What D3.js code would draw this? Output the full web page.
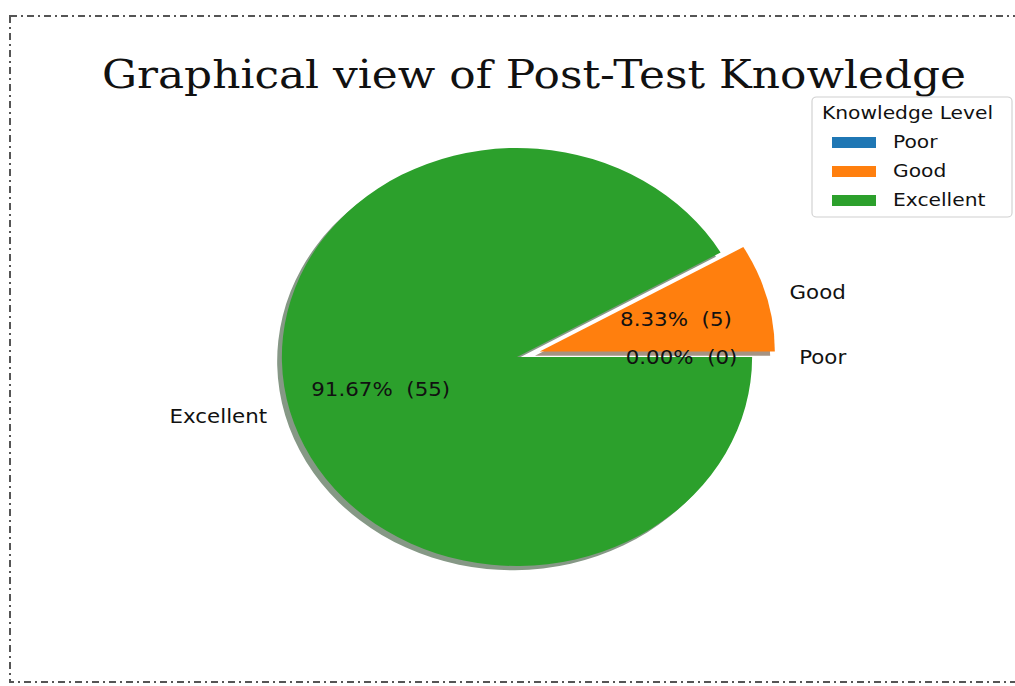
<!DOCTYPE html>
<html>
<head>
<meta charset="utf-8">
<script src="https://cdn.jsdelivr.net/npm/d3@7"></script>
<style>
  body { margin: 0; background: #fff; }
  svg { display: block; }
</style>
</head>
<body>
<div class="pie"></div>
<script>
const categories = ["Poor", "Good", "Excellent"]
const counts = [0, 5, 55]
const explode = [0.1, 0.1, 0]
const colors = ["#1f77b4", "#ff7f0e", "#2ca02c"]
const titleText = "Graphical view of Post-Test Knowledge"
const legendTitle = "Knowledge Level"

const W = 1015
const H = 686
const sx = 1.125          // the picture is a bit wider than tall
const cx = 517 / sx
const cy = 357
const R = 209

const svg = d3.select(".pie")
  .append("svg")
  .attr("width", W)
  .attr("height", H)

svg.append("rect").attr("width", W).attr("height", H).attr("fill", "#fff")

// dash-dot frame
svg.append("rect")
  .attr("x", 10).attr("y", 16)
  .attr("width", 1012).attr("height", 666)
  .attr("fill", "none")
  .attr("stroke", "#555")
  .attr("stroke-width", 2)
  .attr("stroke-dasharray", "7,4,2,4")

svg.append("text")
  .attr("x", 534).attr("y", 88)
  .attr("text-anchor", "middle")
  .attr("font-family", "DejaVu Serif")
  .attr("font-size", 40)
  .attr("textLength", 864)
  .attr("lengthAdjust", "spacingAndGlyphs")
  .attr("fill", "#111")
  .text(titleText)

const g = svg.append("g").attr("transform", `scale(${sx},1)`)

const total = d3.sum(counts)
// matplotlib style: counter-clockwise from 3 o'clock
const pie = d3.pie().sort(null).startAngle(0).endAngle(2 * Math.PI)
const slices = pie(counts).map((d, i) => {
  const mid = (d.startAngle + d.endAngle) / 2
  const off = explode[i] * R
  return {
    ...d, i, mid,
    ox: cx + off * Math.cos(mid),
    oy: cy - off * Math.sin(mid)
  }
})

const arc = d3.arc()
  .innerRadius(0)
  .outerRadius(R)
  .startAngle(d => Math.PI / 2 - d.endAngle)
  .endAngle(d => Math.PI / 2 - d.startAngle)

const rgb = c => d3.rgb(c)
const shadowCol = c => {
  const k = rgb(c)
  return d3.rgb(255 - 0.5 * (255 - 0.3 * k.r), 255 - 0.5 * (255 - 0.3 * k.g), 255 - 0.5 * (255 - 0.3 * k.b))
}

slices.forEach(d => {
  if (d.value === 0) return
  g.append("path")
    .attr("d", arc(d))
    .attr("transform", `translate(${d.ox - 0.02 * R},${d.oy + 0.02 * R})`)
    .attr("fill", shadowCol(colors[d.i]))
  g.append("path")
    .attr("d", arc(d))
    .attr("transform", `translate(${d.ox},${d.oy})`)
    .attr("fill", colors[d.i])
})

// outside labels
slices.forEach(d => {
  const x = d.ox + 1.1 * R * Math.cos(d.mid)
  const y = d.oy - 1.1 * R * Math.sin(d.mid)
  g.append("text")
    .attr("x", x).attr("y", y)
    .attr("dy", "0.35em")
    .attr("text-anchor", Math.cos(d.mid) >= 0 ? "start" : "end")
    .attr("font-family", "DejaVu Sans")
    .attr("font-size", 19)
    .attr("fill", "#111")
    .text(categories[d.i])
})

// percentage labels
slices.forEach(d => {
  const x = d.ox + 0.6 * R * Math.cos(d.mid)
  const y = d.oy - 0.6 * R * Math.sin(d.mid)
  g.append("text")
    .attr("x", x).attr("y", y)
    .attr("dy", "0.35em")
    .attr("text-anchor", "middle")
    .attr("font-family", "DejaVu Sans")
    .attr("font-size", 19)
    .attr("fill", "#111")
    .style("white-space", "pre")
    .text(`${(d.value / total * 100).toFixed(2)}%  (${d.value})`)
})

// legend
const lx = 812 / sx, ly = 97
const leg = g.append("g").attr("transform", `translate(${lx},${ly})`)
leg.append("rect")
  .attr("width", 200 / sx).attr("height", 120)
  .attr("rx", 4)
  .attr("fill", "#fff").attr("fill-opacity", 0.8)
  .attr("stroke", "#d0d0d0")
leg.append("text")
  .attr("x", 10 / sx).attr("y", 22)
  .attr("font-family", "DejaVu Sans")
  .attr("font-size", 18)
  .attr("fill", "#111")
  .text(legendTitle)
const rowY = d3.scaleBand().domain(categories).range([34, 121])
categories.forEach((c, i) => {
  const y = rowY(c)
  leg.append("rect")
    .attr("x", 20 / sx).attr("y", y + 6)
    .attr("width", 44 / sx).attr("height", 11)
    .attr("fill", colors[i])
  leg.append("text")
    .attr("x", 81 / sx).attr("y", y + 11)
    .attr("dy", "0.35em")
    .attr("font-family", "DejaVu Sans")
    .attr("font-size", 18)
    .attr("fill", "#111")
    .text(c)
})
</script>
</body>
</html>
